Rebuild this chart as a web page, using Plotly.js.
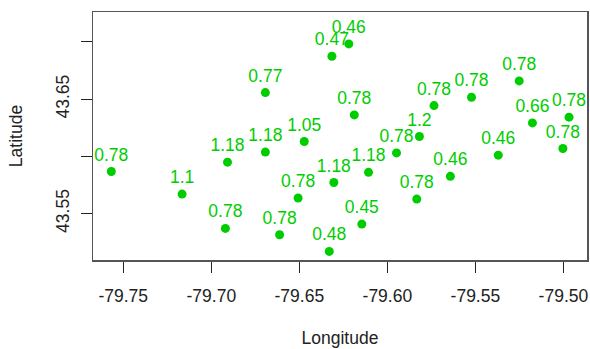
<!DOCTYPE html>
<html>
<head>
<meta charset="utf-8">
<script src="https://cdn.plot.ly/plotly-3.0.1.min.js"></script>
<style>
  html, body { margin: 0; padding: 0; background: #ffffff; }
  #plot { width: 590px; height: 349px; }
</style>
</head>
<body>
<div id="plot"></div>
<script>
// Station coordinates and the value measured at each one
const longitude = [
  -79.7568, -79.7166, -79.6908, -79.6920, -79.6693, -79.6693, -79.6612,
  -79.6507, -79.6472, -79.6315, -79.6219, -79.6188, -79.6304, -79.6330,
  -79.6145, -79.6107, -79.5948, -79.5818, -79.5735, -79.5833, -79.5642,
  -79.5522, -79.5370, -79.5251, -79.5176, -79.4968, -79.5003
];
const latitude = [
  43.5868, 43.5671, 43.5950, 43.5371, 43.6558, 43.6038, 43.5316,
  43.5637, 43.6130, 43.6875, 43.6983, 43.6363, 43.5772, 43.5170,
  43.5409, 43.5861, 43.6031, 43.6174, 43.6444, 43.5627, 43.5826,
  43.6517, 43.6011, 43.6660, 43.6293, 43.6343, 43.6069
];
const values = [
  0.78, 1.1, 1.18, 0.78, 0.77, 1.18, 0.78,
  0.78, 1.05, 0.47, 0.46, 0.78, 1.18, 0.48,
  0.45, 1.18, 0.78, 1.2, 0.78, 0.78, 0.46,
  0.78, 0.46, 0.78, 0.66, 0.78, 0.78
];
const xTicks = [-79.75, -79.70, -79.65, -79.60, -79.55, -79.50];
const xTickText = ["-79.75", "-79.70", "-79.65", "-79.60", "-79.55", "-79.50"];
const yTicks = [43.55, 43.60, 43.65, 43.70];
const yTickText = ["43.55", "", "43.65", ""];

const green = "#00CD00";
const font = "Liberation Sans, Arial, Helvetica, sans-serif";

const trace = {
  type: "scatter",
  mode: "markers+text",
  x: longitude,
  y: latitude,
  text: values.map(String),
  textposition: "top center",
  textfont: { family: font, size: 17.5, color: green },
  marker: { color: green, size: 9 },
  cliponaxis: false,
  hoverinfo: "none"
};

const axisCommon = {
  showgrid: false,
  zeroline: false,
  showline: true,
  mirror: true,
  linecolor: "#555555",
  linewidth: 1.5,
  ticks: "outside",
  ticklen: 11,
  tickwidth: 1,
  tickcolor: "#222222",
  tickfont: { family: font, size: 17.5, color: "#222222" },
  tickmode: "array"
};

const layout = {
  width: 590,
  height: 349,
  margin: { l: 93, r: 2.5, t: 12, b: 88.5 },
  paper_bgcolor: "#ffffff",
  plot_bgcolor: "#ffffff",
  showlegend: false,
  xaxis: Object.assign({}, axisCommon, {
    range: [-79.7672, -79.4866],
    tickvals: xTicks,
    ticktext: xTickText,
    ticklabelstandoff: 8,
    title: { text: "Longitude", font: { family: font, size: 17.5, color: "#222222" }, standoff: 27 }
  }),
  yaxis: Object.assign({}, axisCommon, {
    range: [43.5095, 43.7262],
    tickvals: yTicks,
    ticktext: yTickText,
    tickangle: -90,
    ticklabelstandoff: 5,
    title: { text: "Latitude", font: { family: font, size: 17.5, color: "#222222" }, standoff: 25 }
  })
};

Plotly.newPlot("plot", [trace], layout, { staticPlot: true, displayModeBar: false });
</script>
</body>
</html>
